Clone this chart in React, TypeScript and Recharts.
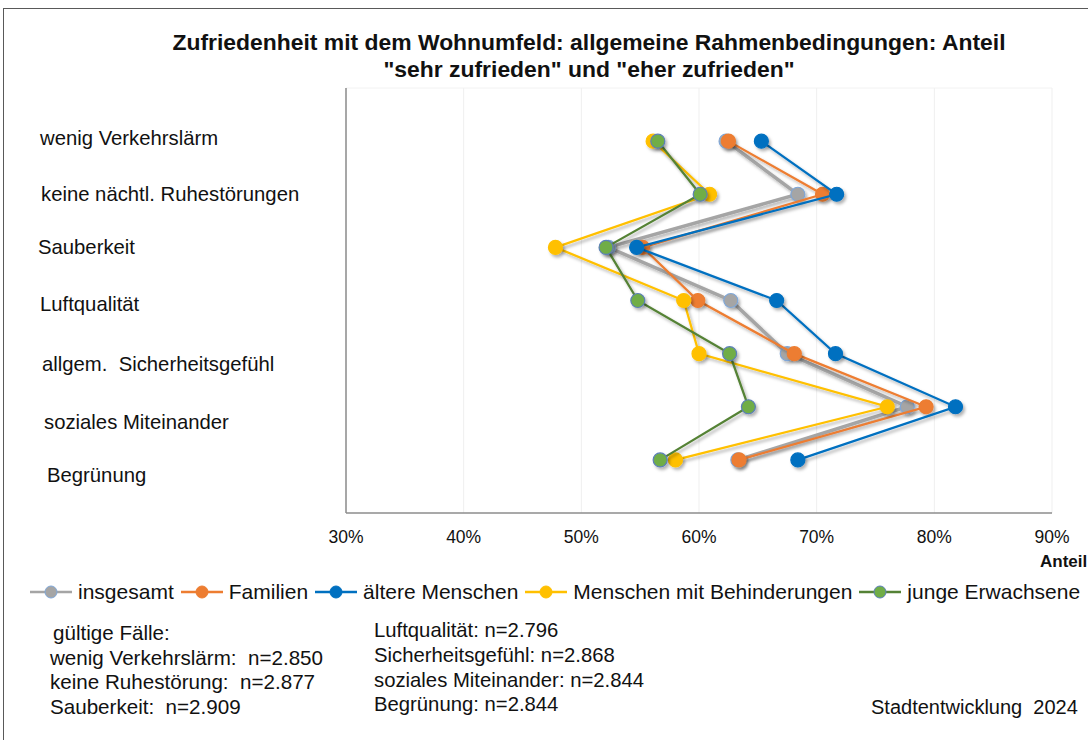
import React from 'react';
import { ScatterChart, Scatter, XAxis, YAxis, CartesianGrid, ReferenceLine } from 'recharts';

const categories = [
  'wenig Verkehrslärm',
  'keine nächtl. Ruhestörungen',
  'Sauberkeit',
  'Luftqualität',
  'allgem.  Sicherheitsgefühl',
  'soziales Miteinander',
  'Begrünung',
];

const insgesamt = [62.3, 68.4, 52.3, 62.7, 67.5, 77.7, 63.3];
const familien = [62.5, 70.5, 55.2, 59.9, 68.1, 79.3, 63.4];
const aeltereMenschen = [65.3, 71.7, 54.7, 66.6, 71.6, 81.8, 68.4];
const menschenMitBehinderungen = [56.1, 60.9, 47.8, 58.7, 60.0, 76.0, 58.0];
const jungeErwachsene = [56.5, 60.1, 52.1, 54.8, 62.6, 64.2, 56.7];

const xTicks = [30, 40, 50, 60, 70, 80, 90];
const yTicks = [1, 2, 3, 4, 5, 6, 7];

const footLeft = [
  'gültige Fälle:',
  'wenig Verkehrslärm:  n=2.850',
  'keine Ruhestörung:  n=2.877',
  'Sauberkeit:  n=2.909',
];
const footRight = [
  'Luftqualität: n=2.796',
  'Sicherheitsgefühl: n=2.868',
  'soziales Miteinander: n=2.844',
  'Begrünung: n=2.844',
];

const series = [
  { name: 'insgesamt', values: insgesamt, line: '#A5A5A5', fill: '#A5A5A5', border: '#7FA7D8', width: 3.5 },
  { name: 'Familien', values: familien, line: '#ED7D31', fill: '#ED7D31', border: '#ED7D31', width: 2.25 },
  { name: 'ältere Menschen', values: aeltereMenschen, line: '#0070C0', fill: '#0070C0', border: '#0070C0', width: 2.25 },
  { name: 'Menschen mit Behinderungen', values: menschenMitBehinderungen, line: '#FFC000', fill: '#FFC000', border: '#FFC000', width: 2.25 },
  { name: 'junge Erwachsene', values: jungeErwachsene, line: '#548235', fill: '#70AD47', border: '#5B7FB8', width: 2.25 },
];

// layout nudges for the free-standing category text boxes (px)
const labelX = [40, 41, 38, 40, 42, 44, 47];
const labelDy = [-3, 0, 0, 3, 10, 15, 15];

const FONT = '"Liberation Sans", Arial, sans-serif';

const renderCategoryTick = (props: any) => {
  const { y, payload } = props;
  const i = Math.round(Number(payload && payload.value)) - 1;
  if (!(i >= 0 && i < categories.length)) return <g />;
  return (
    <text
      key={`cat-${i}`}
      x={labelX[i]}
      y={y + labelDy[i]}
      dy="0.35em"
      fontSize={20.3}
      fontFamily={FONT}
      fill="#111"
      textAnchor="start"
      style={{ whiteSpace: 'pre' }}
    >
      {categories[i]}
    </text>
  );
};

const makeShape = (fill: string, border: string) => (props: any) => (
  <circle cx={props.cx} cy={props.cy} r={7} fill={fill} stroke={border} strokeWidth={1.2} filter="url(#shadow)" />
);

export default function App() {
  return (
    <div
      style={{
        position: 'absolute',
        left: 0,
        top: 0,
        width: 1088,
        height: 740,
        overflow: 'hidden',
        background: '#fff',
        fontFamily: FONT,
        color: '#111',
      }}
    >
      <div
        style={{
          position: 'absolute',
          left: 3,
          top: 8,
          width: 1200,
          height: 800,
          border: '1px solid #595959',
          boxSizing: 'border-box',
        }}
      />
      <div
        style={{
          position: 'absolute',
          left: 89,
          width: 1000,
          top: 29,
          textAlign: 'center',
          fontWeight: 'bold',
          fontSize: 22.9,
          lineHeight: '27px',
        }}
      >
        Zufriedenheit mit dem Wohnumfeld: allgemeine Rahmenbedingungen: Anteil
        <br />
        "sehr zufrieden" und "eher zufrieden"
      </div>
      <div style={{ position: 'absolute', left: 0, top: 0 }}>
        <ScatterChart width={1088} height={740} margin={{ top: 88, right: 36, bottom: 197, left: 345 }}>
          <defs>
            <filter id="shadow" filterUnits="userSpaceOnUse" x="0" y="0" width="1088" height="740">
              <feDropShadow dx="2" dy="2.5" stdDeviation="1.6" floodColor="#000" floodOpacity="0.3" />
            </filter>
          </defs>
          <CartesianGrid horizontal={false} stroke="#EFEFEF" />
          <ReferenceLine y={0} stroke="#F2F2F2" />
          <XAxis
            type="number"
            dataKey="x"
            domain={[30, 90]}
            ticks={xTicks}
            tickFormatter={(v: number) => `${v}%`}
            axisLine={{ stroke: '#8C8C8C', strokeWidth: 1.5 }}
            tickLine={false}
            tickMargin={12}
            height={30}
            tick={{ fontSize: 17.5, fontFamily: FONT, fill: '#111' }}
            interval={0}
          />
          <YAxis
            type="number"
            dataKey="y"
            domain={[0, 8]}
            ticks={yTicks}
            reversed
            width={1}
            axisLine={{ stroke: '#8C8C8C', strokeWidth: 1.5 }}
            tickLine={false}
            tick={renderCategoryTick}
            interval={0}
            allowDataOverflow
          />
          {series.map((s) => (
            <Scatter
              key={s.name}
              name={s.name}
              data={s.values.map((v, i) => ({ x: v, y: i + 1, cat: categories[i] }))}
              fill={s.fill}
              line={{ stroke: s.line, strokeWidth: s.width, filter: 'url(#shadow)' }}
              lineType="joint"
              shape={makeShape(s.fill, s.border)}
              isAnimationActive={false}
            />
          ))}
        </ScatterChart>
      </div>
      <div
        style={{
          position: 'absolute',
          left: 1040,
          top: 552,
          fontSize: 17,
          fontWeight: 'bold',
          whiteSpace: 'nowrap',
          lineHeight: '20px',
        }}
      >
        Anteil
      </div>
      <div
        style={{
          position: 'absolute',
          left: 30,
          top: 580,
          display: 'flex',
          alignItems: 'center',
          gap: 7,
          fontSize: 21,
          whiteSpace: 'nowrap',
          lineHeight: '24px',
        }}
      >
        {series.map((s) => (
          <div key={s.name} style={{ display: 'flex', alignItems: 'center', gap: 6 }}>
            <svg width={42} height={16}>
              <line x1={0} y1={8} x2={42} y2={8} stroke={s.line} strokeWidth={2.5} />
              <circle cx={21} cy={8} r={6} fill={s.fill} stroke={s.border} strokeWidth={1} />
            </svg>
            <span>{s.name}</span>
          </div>
        ))}
      </div>
      <div style={{ position: 'absolute', left: 50, top: 621, fontSize: 20.6, lineHeight: '24.7px', whiteSpace: 'pre' }}>
        {footLeft.map((t, i) => (
          <div key={t} style={{ paddingLeft: i === 0 ? 3 : 0 }}>{t}</div>
        ))}
      </div>
      <div style={{ position: 'absolute', left: 374, top: 618, fontSize: 20.3, lineHeight: '24.8px', whiteSpace: 'pre' }}>
        {footRight.map((t) => (
          <div key={t}>{t}</div>
        ))}
      </div>
      <div style={{ position: 'absolute', left: 871, top: 695, fontSize: 20, lineHeight: '24px', whiteSpace: 'pre' }}>
        {'Stadtentwicklung  2024'}
      </div>
    </div>
  );
}
